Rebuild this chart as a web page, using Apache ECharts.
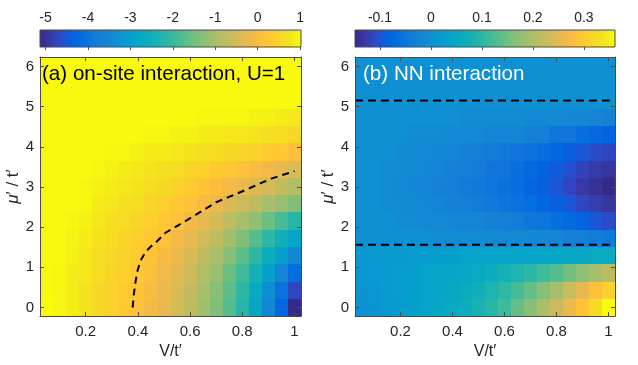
<!DOCTYPE html>
<html><head><meta charset="utf-8">
<script src="https://cdn.jsdelivr.net/npm/echarts@6/dist/echarts.min.js"></script>
<style>html,body{margin:0;padding:0;background:#fff}#c{width:638px;height:365px}</style>
</head><body><div id="c"></div>
<script>
// ---- data ----
const vValues = [0.05,0.10,0.15,0.20,0.25,0.30,0.35,0.40,0.45,0.50,0.55,0.60,0.65,0.70,0.75,0.80,0.85,0.90,0.95,1.00];
const muValues = [0,0.43,0.86,1.29,1.72,2.15,2.58,3.01,3.44,3.87,4.30,4.73,5.16,5.59,6.02];
const cellV = 0.05, cellMu = 0.43;
const xTicks = [0.2,0.4,0.6,0.8,1];
const yTicks = [0,1,2,3,4,5,6];
const cbTicksA = [-5,-4,-3,-2,-1,0,1];
const cbTicksB = [-0.1,0,0.1,0.2,0.3];
const climA = [-5.13, 1.02];
const climB = [-0.149, 0.361];

// (a) on-site interaction, rows = muValues, cols = vValues
const onsite = [
 [1.02,0.96,0.84,0.71,0.53,0.41,0.22,0.10,-0.09,-0.27,-0.52,-0.76,-1.07,-1.38,-1.75,-2.18,-2.79,-3.53,-4.27,-5.13],
 [1.00,0.96,0.84,0.71,0.53,0.41,0.28,0.16,-0.03,-0.21,-0.46,-0.70,-1.01,-1.32,-1.69,-2.12,-2.67,-3.35,-4.02,-4.70],
 [1.00,0.96,0.84,0.77,0.59,0.47,0.34,0.22,0.04,-0.15,-0.33,-0.58,-0.89,-1.19,-1.56,-1.93,-2.42,-2.98,-3.59,-4.15],
 [1.00,1.00,0.90,0.77,0.65,0.53,0.41,0.28,0.16,-0.03,-0.21,-0.46,-0.70,-1.01,-1.32,-1.69,-2.12,-2.55,-3.04,-3.53],
 [1.00,1.00,0.90,0.84,0.71,0.59,0.47,0.34,0.22,0.10,-0.09,-0.27,-0.52,-0.76,-1.07,-1.38,-1.75,-2.12,-2.49,-2.85],
 [1.00,1.00,0.96,0.90,0.77,0.65,0.59,0.47,0.34,0.22,0.10,-0.09,-0.27,-0.52,-0.76,-1.01,-1.26,-1.56,-1.87,-2.18],
 [1.00,1.00,1.00,0.96,0.84,0.77,0.65,0.59,0.47,0.34,0.22,0.10,-0.03,-0.21,-0.39,-0.58,-0.76,-1.01,-1.19,-1.38],
 [1.00,1.00,1.00,0.96,0.90,0.84,0.77,0.71,0.59,0.53,0.41,0.28,0.16,0.04,-0.09,-0.21,-0.39,-0.52,-0.70,-0.89],
 [1.00,1.00,1.00,1.00,0.96,0.90,0.84,0.77,0.71,0.65,0.59,0.47,0.41,0.28,0.22,0.10,-0.03,-0.15,-0.27,-0.46],
 [1.00,1.00,1.00,1.00,1.00,0.96,0.96,0.90,0.84,0.84,0.77,0.71,0.65,0.59,0.53,0.47,0.41,0.28,0.22,0.04],
 [1.00,1.00,1.00,1.00,1.00,1.00,1.00,1.00,0.96,0.96,0.90,0.90,0.84,0.84,0.77,0.77,0.71,0.65,0.59,0.53],
 [1.00,1.00,1.00,1.00,1.00,1.00,1.00,1.00,1.00,1.00,1.00,1.00,0.96,0.96,0.96,0.96,0.90,0.90,0.84,0.77],
 [1.00,1.00,1.00,1.00,1.00,1.00,1.00,1.00,1.00,1.00,1.00,1.00,1.00,1.00,1.00,1.00,1.00,1.00,1.00,1.00],
 [1.00,1.00,1.00,1.00,1.00,1.00,1.00,1.00,1.00,1.00,1.00,1.00,1.00,1.00,1.00,1.00,1.00,1.00,1.00,1.00],
 [1.00,1.00,1.00,1.00,1.00,1.00,1.00,1.00,1.00,1.00,1.00,1.00,1.00,1.00,1.00,1.00,1.00,1.00,1.00,1.00]
];

// (b) NN interaction
const nn = [
 [0.000,0.004,0.014,0.019,0.030,0.035,0.045,0.055,0.065,0.081,0.096,0.116,0.142,0.167,0.198,0.228,0.259,0.290,0.325,0.361],
 [0.004,0.009,0.019,0.024,0.030,0.035,0.045,0.050,0.060,0.070,0.086,0.101,0.121,0.142,0.167,0.193,0.223,0.254,0.285,0.310],
 [0.009,0.014,0.019,0.024,0.030,0.035,0.040,0.045,0.050,0.055,0.065,0.075,0.086,0.101,0.116,0.132,0.152,0.172,0.193,0.208],
 [0.009,0.014,0.019,0.019,0.024,0.024,0.030,0.030,0.035,0.035,0.035,0.040,0.040,0.040,0.045,0.045,0.050,0.050,0.055,0.055],
 [0.000,0.000,0.000,0.000,0.000,0.000,-0.006,-0.006,-0.006,-0.006,-0.011,-0.011,-0.011,-0.016,-0.016,-0.022,-0.027,-0.032,-0.037,-0.042],
 [0.000,0.000,0.000,-0.006,-0.006,-0.011,-0.011,-0.016,-0.022,-0.022,-0.027,-0.032,-0.037,-0.047,-0.052,-0.062,-0.073,-0.083,-0.098,-0.108],
 [0.000,0.000,-0.006,-0.006,-0.011,-0.016,-0.022,-0.027,-0.032,-0.037,-0.042,-0.052,-0.057,-0.067,-0.078,-0.088,-0.098,-0.113,-0.124,-0.134],
 [0.000,0.000,-0.006,-0.011,-0.016,-0.022,-0.027,-0.032,-0.037,-0.042,-0.052,-0.057,-0.067,-0.078,-0.088,-0.098,-0.113,-0.129,-0.139,-0.149],
 [0.000,0.000,-0.006,-0.006,-0.011,-0.016,-0.022,-0.027,-0.032,-0.037,-0.047,-0.052,-0.062,-0.073,-0.083,-0.093,-0.103,-0.118,-0.129,-0.134],
 [0.000,0.000,0.000,-0.006,-0.011,-0.011,-0.016,-0.022,-0.027,-0.032,-0.037,-0.042,-0.052,-0.057,-0.067,-0.078,-0.088,-0.098,-0.108,-0.113],
 [0.000,0.000,0.000,0.000,-0.006,-0.006,-0.006,-0.011,-0.011,-0.011,-0.022,-0.022,-0.022,-0.032,-0.032,-0.047,-0.047,-0.062,-0.073,-0.083],
 [0.000,0.000,0.000,0.000,0.000,0.000,0.000,0.000,-0.006,-0.006,-0.006,-0.006,-0.006,-0.011,-0.011,-0.011,-0.016,-0.016,-0.022,-0.027],
 [0,0,0,0,0,0,0,0,0,0,0,0,0,0,0,0,0,0,0,0],
 [0,0,0,0,0,0,0,0,0,0,0,0,0,0,0,0,0,0,0,0],
 [0,0,0,0,0,0,0,0,0,0,0,0,0,0,0,0,0,0,0,0]
];

// dashed boundary in (a)
const curveV  = [0.380,0.384,0.390,0.398,0.410,0.428,0.450,0.468,0.506,0.564,0.635,0.700,0.760,0.814,0.880,0.917,0.960,1.000];
const curveMu = [0.00,0.30,0.60,0.90,1.16,1.37,1.52,1.61,1.86,2.08,2.36,2.62,2.78,2.93,3.12,3.22,3.31,3.39];
// dashed horizontal lines in (b)
const nnLineMu = [5.15, 1.56];
const nnLineV = [0.025, 1.025];

// ---- style ----
const parula = [[0.2081,0.1663,0.5292],[0.2116,0.1898,0.5777],[0.2123,0.2138,0.6270],[0.2081,0.2386,0.6771],[0.1959,0.2645,0.7279],[0.1707,0.2919,0.7792],[0.1253,0.3242,0.8303],[0.0591,0.3598,0.8683],[0.0117,0.3875,0.8820],[0.0060,0.4086,0.8828],[0.0165,0.4266,0.8786],[0.0329,0.4430,0.8720],[0.0498,0.4586,0.8641],[0.0629,0.4737,0.8554],[0.0723,0.4887,0.8467],[0.0779,0.5040,0.8384],[0.0793,0.5200,0.8312],[0.0749,0.5375,0.8263],[0.0641,0.5570,0.8240],[0.0488,0.5772,0.8228],[0.0343,0.5966,0.8199],[0.0265,0.6137,0.8135],[0.0239,0.6287,0.8038],[0.0231,0.6418,0.7913],[0.0228,0.6535,0.7768],[0.0267,0.6642,0.7607],[0.0384,0.6743,0.7436],[0.0590,0.6838,0.7254],[0.0843,0.6928,0.7062],[0.1133,0.7015,0.6859],[0.1453,0.7098,0.6646],[0.1801,0.7177,0.6424],[0.2178,0.7250,0.6193],[0.2586,0.7317,0.5954],[0.3022,0.7376,0.5712],[0.3482,0.7424,0.5473],[0.3953,0.7459,0.5244],[0.4420,0.7481,0.5033],[0.4871,0.7491,0.4840],[0.5300,0.7491,0.4661],[0.5709,0.7485,0.4494],[0.6099,0.7473,0.4337],[0.6473,0.7456,0.4188],[0.6834,0.7435,0.4044],[0.7184,0.7411,0.3905],[0.7525,0.7384,0.3768],[0.7858,0.7356,0.3633],[0.8185,0.7327,0.3498],[0.8507,0.7299,0.3360],[0.8824,0.7274,0.3217],[0.9139,0.7258,0.3063],[0.9450,0.7261,0.2886],[0.9739,0.7314,0.2666],[0.9938,0.7455,0.2403],[0.9990,0.7653,0.2164],[0.9955,0.7861,0.1967],[0.9880,0.8066,0.1794],[0.9789,0.8271,0.1633],[0.9697,0.8481,0.1475],[0.9626,0.8705,0.1309],[0.9589,0.8949,0.1132],[0.9598,0.9218,0.0948],[0.9661,0.9514,0.0755],[0.9763,0.9831,0.0538]];
const parulaColors = parula.map(c => 'rgb(' + c.map(v => Math.round(v * 255)).join(',') + ')');

const FONT = '"Liberation Sans", Arial, Helvetica, sans-serif';
const AX = '#262626';
const BOX = '#4a4a4a';

function cells(grid) {
  const out = [];
  grid.forEach((row, i) => row.forEach((val, j) => out.push([vValues[j], muValues[i], val])));
  return out;
}
function cellRender(params, api) {
  const x = api.value(0), y = api.value(1);
  const p1 = api.coord([x - cellV / 2, y + cellMu / 2]);
  const p2 = api.coord([x + cellV / 2, y - cellMu / 2]);
  const x0 = Math.round(p1[0]), y0 = Math.round(p1[1]);
  const x1 = Math.round(p2[0]), y1 = Math.round(p2[1]);
  return { type: 'rect', shape: { x: x0, y: y0, width: x1 - x0, height: y1 - y0 },
           style: { fill: api.visual('color') } };
}
function cbRender(params, api) {
  const p1 = api.coord([api.value(0), 1]);
  const p2 = api.coord([api.value(1), 0]);
  const stops = parulaColors.map((c, i) => ({ offset: i / (parulaColors.length - 1), color: c }));
  return { type: 'rect', shape: { x: p1[0], y: p1[1], width: p2[0] - p1[0], height: p2[1] - p1[1] },
           style: { fill: new echarts.graphic.LinearGradient(0, 0, 1, 0, stops), stroke: BOX, lineWidth: 1 } };
}

const xMin = 0.025, xMax = 1.025, yMin = -0.215, yMax = 6.235;

function xAx(gridIndex, pos, withLabels) {
  return {
    type: 'value', gridIndex, position: pos, min: xMin, max: xMax, z: 10,
    name: withLabels ? 'V/t\u2032' : '', nameLocation: 'middle', nameGap: 27,
    nameTextStyle: { fontFamily: FONT, fontSize: 16, color: AX },
    axisLine: { show: true, onZero: false, lineStyle: { color: BOX, width: 1 } },
    axisTick: { show: true, inside: true, length: 4, customValues: xTicks, lineStyle: { color: BOX } },
    axisLabel: { show: withLabels, customValues: xTicks, margin: 8, fontFamily: FONT, fontSize: 15, color: AX },
    splitLine: { show: false }
  };
}
function yAx(gridIndex, pos, withLabels) {
  return {
    type: 'value', gridIndex, position: pos, min: yMin, max: yMax, z: 10,
    name: withLabels ? '{it|\u03bc}\u2032 / t\u2032' : '', nameLocation: 'middle', nameGap: 16, nameRotate: 90,
    nameTextStyle: { fontFamily: FONT, fontSize: 17, color: AX, rich: { it: { fontStyle: 'italic', fontFamily: FONT, fontSize: 17, color: AX } } },
    axisLine: { show: true, onZero: false, lineStyle: { color: BOX, width: 1 } },
    axisTick: { show: true, inside: true, length: 4, customValues: yTicks, lineStyle: { color: BOX } },
    axisLabel: { show: withLabels, customValues: yTicks, margin: 6, fontFamily: FONT, fontSize: 15, color: AX },
    splitLine: { show: false }
  };
}
function cbX(gridIndex, clim, ticks) {
  return {
    type: 'value', gridIndex, position: 'top', min: clim[0], max: clim[1], z: 10,
    axisLine: { show: false },
    axisTick: { show: true, inside: true, length: 3, customValues: ticks, lineStyle: { color: BOX } },
    axisLabel: { show: true, customValues: ticks, margin: 5, fontFamily: FONT, fontSize: 14, color: AX },
    splitLine: { show: false }
  };
}
function cbY(gridIndex) {
  return { type: 'value', gridIndex, min: 0, max: 1, show: false };
}

const dashLine = (xa, ya, data, dash) => ({
  type: 'line', xAxisIndex: xa, yAxisIndex: ya, data, symbol: 'none', silent: true, z: 5,
  lineStyle: { color: '#000', width: 2, type: dash }, animation: false
});

const chart = echarts.init(document.getElementById('c'), null, { renderer: 'canvas' });
chart.setOption({
  animation: false,
  backgroundColor: '#fff',
  grid: [
    { left: 40, top: 57, width: 261, height: 260 },
    { left: 355, top: 57, width: 260, height: 260 },
    { left: 40, top: 30, width: 261, height: 17 },
    { left: 355, top: 30, width: 260, height: 17 }
  ],
  xAxis: [xAx(0, 'bottom', true), xAx(0, 'top', false), xAx(1, 'bottom', true), xAx(1, 'top', false),
          cbX(2, climA, cbTicksA), cbX(3, climB, cbTicksB)],
  yAxis: [yAx(0, 'left', true), yAx(0, 'right', false), yAx(1, 'left', true), yAx(1, 'right', false),
          cbY(2), cbY(3)],
  visualMap: [
    { type: 'continuous', show: false, seriesIndex: 0, dimension: 2, min: climA[0], max: climA[1], inRange: { color: parulaColors } },
    { type: 'continuous', show: false, seriesIndex: 2, dimension: 2, min: climB[0], max: climB[1], inRange: { color: parulaColors } }
  ],
  series: [
    { type: 'custom', xAxisIndex: 0, yAxisIndex: 0, renderItem: cellRender, data: cells(onsite), silent: true, z: 1 },
    dashLine(0, 0, curveV.map((v, i) => [v, curveMu[i]]), [7, 5]),
    { type: 'custom', xAxisIndex: 2, yAxisIndex: 2, renderItem: cellRender, data: cells(nn), silent: true, z: 1 },
    dashLine(2, 2, nnLineV.map(v => [v, nnLineMu[0]]), [8, 5]),
    dashLine(2, 2, nnLineV.map(v => [v, nnLineMu[1]]), [8, 5]),
    { type: 'custom', xAxisIndex: 4, yAxisIndex: 4, renderItem: cbRender, data: [climA], silent: true },
    { type: 'custom', xAxisIndex: 5, yAxisIndex: 5, renderItem: cbRender, data: [climB], silent: true }
  ],
  graphic: [
    { type: 'text', left: 42, top: 64, z: 100, style: { text: '(a) on-site interaction, U=1', font: '20.6px ' + FONT, fill: '#000' } },
    { type: 'text', left: 363, top: 64, z: 100, style: { text: '(b) NN interaction', font: '20.6px ' + FONT, fill: '#fff' } }
  ]
});
</script></body></html>
